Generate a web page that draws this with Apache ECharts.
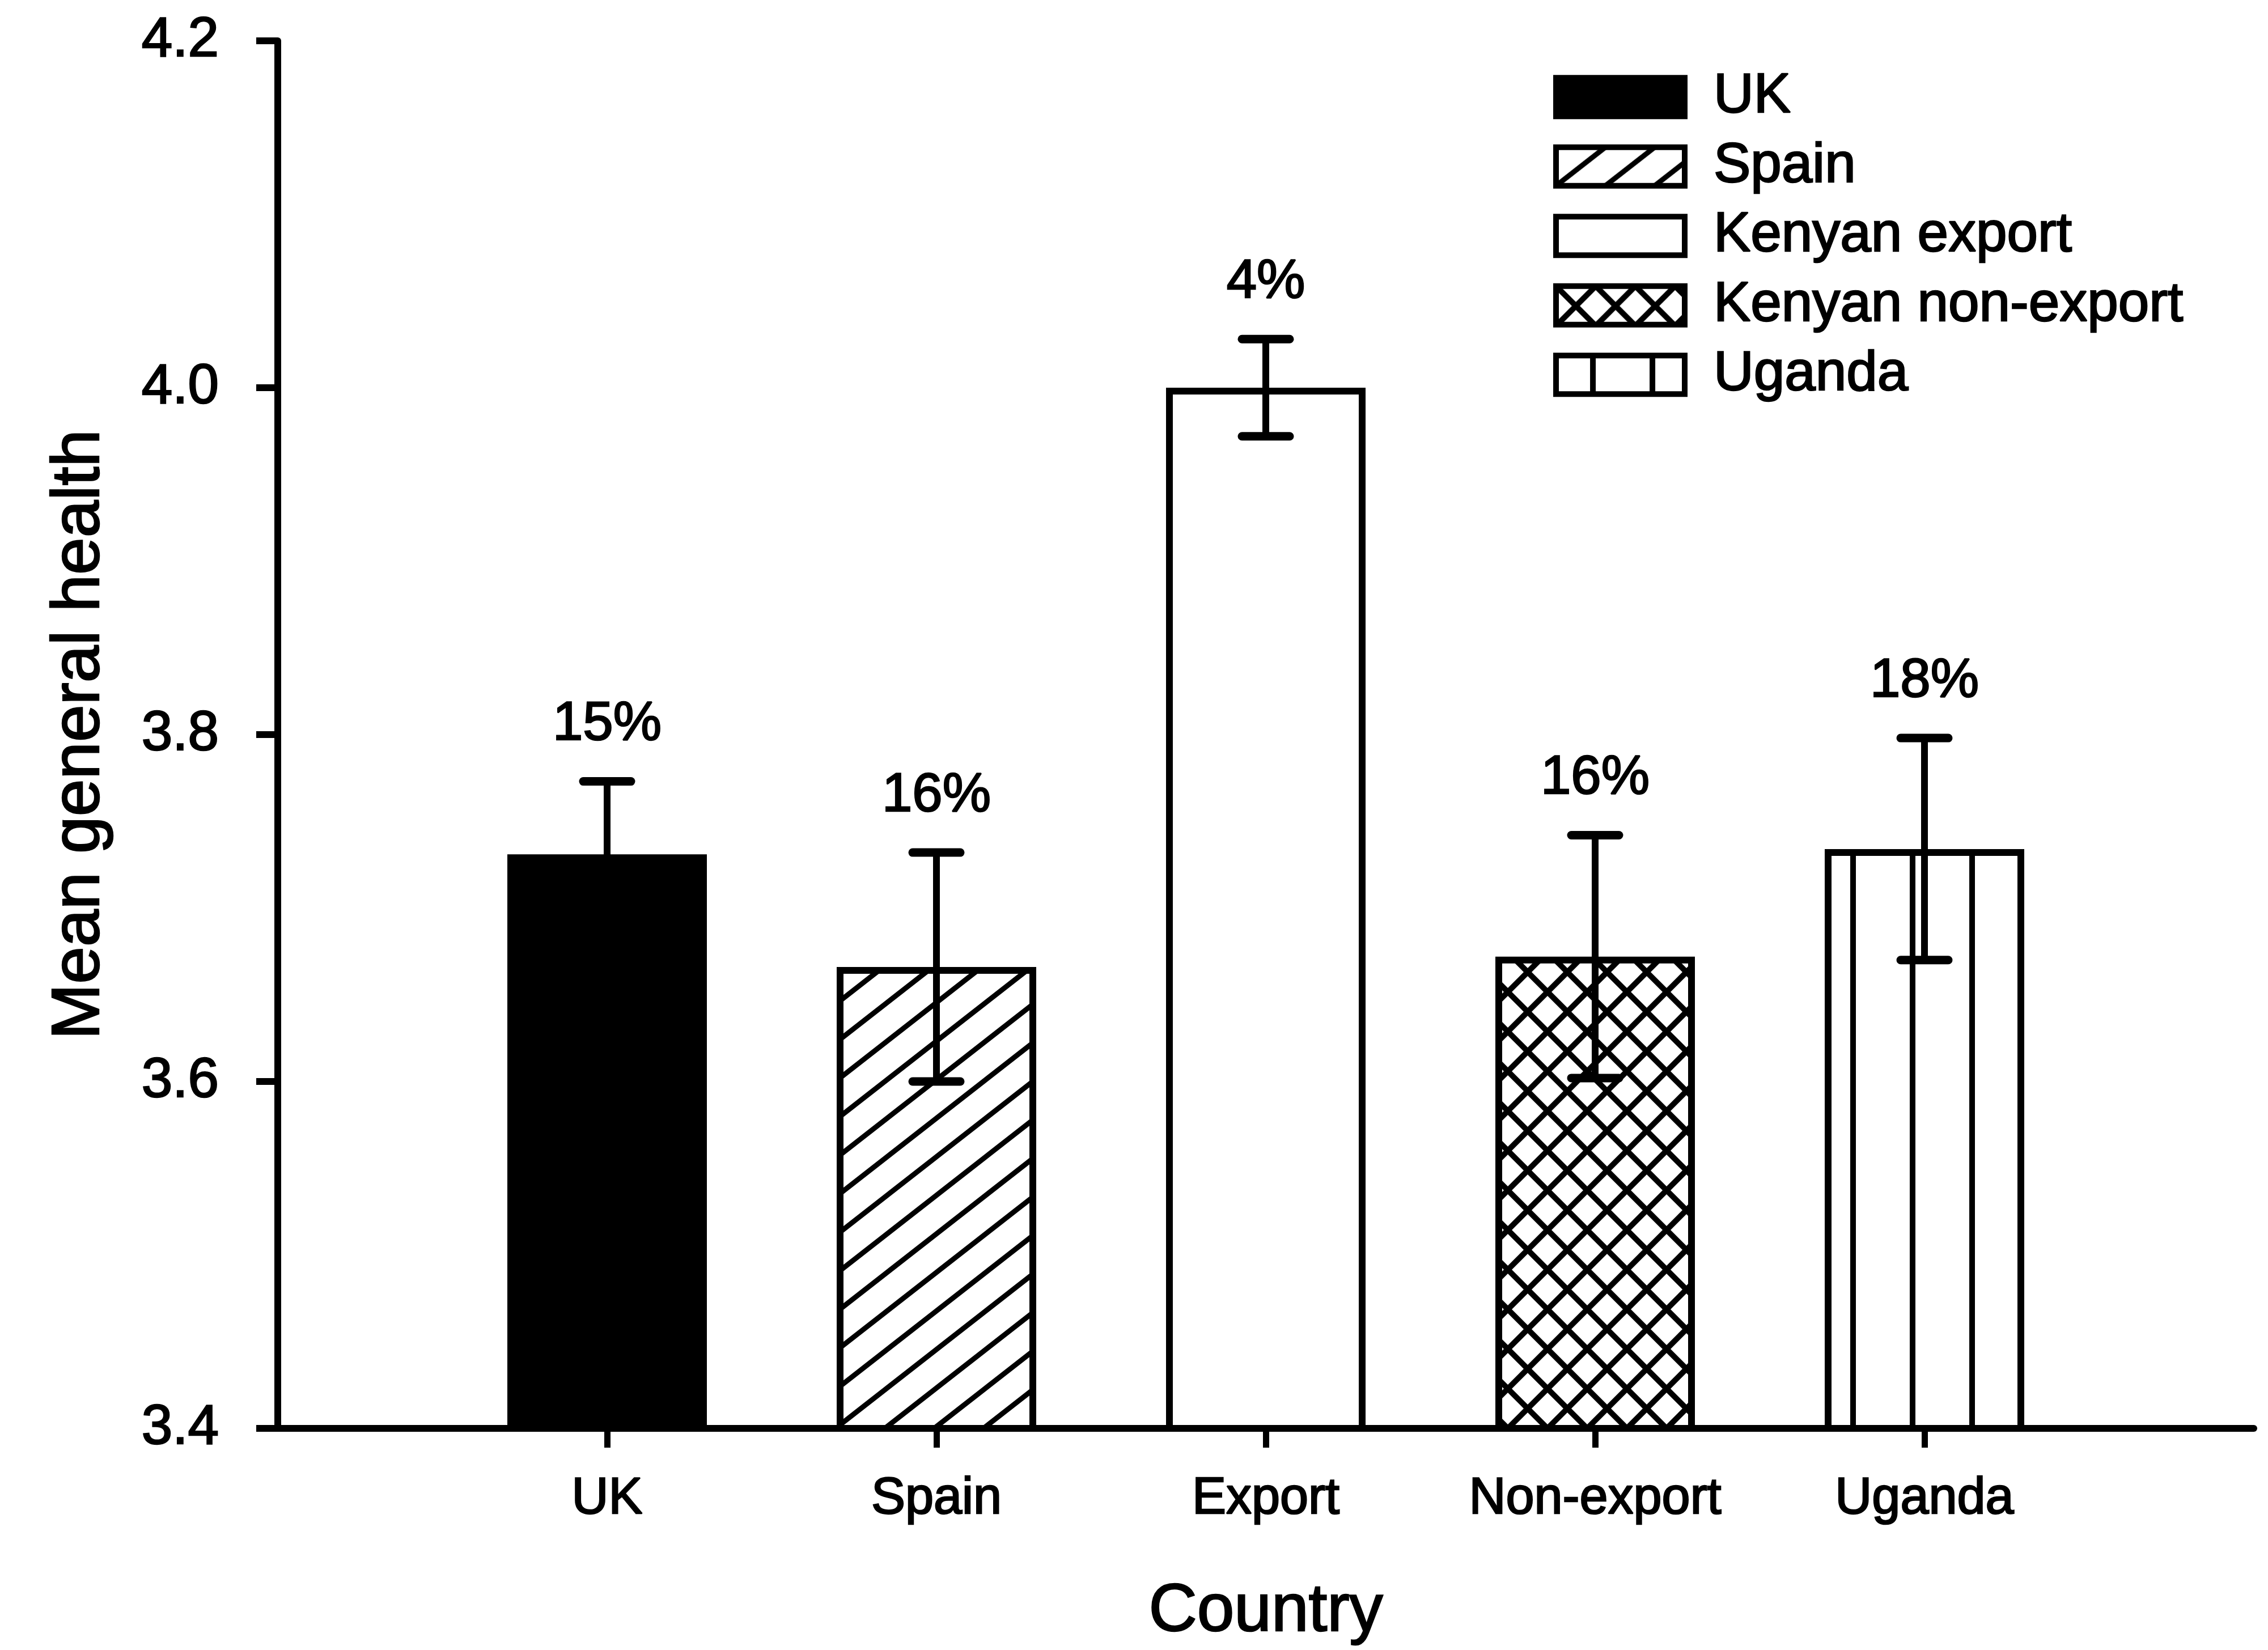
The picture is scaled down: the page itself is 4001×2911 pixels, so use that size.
<!DOCTYPE html>
<html>
<head>
<meta charset="utf-8">
<script src="https://cdn.jsdelivr.net/npm/echarts@6/dist/echarts.min.js"></script>
<style>
  html, body { margin: 0; padding: 0; background: #ffffff; }
  #chart { width: 4001px; height: 2911px; }
</style>
</head>
<body>
<div id="chart"></div>
<script>
// ---- data ----
const categories = ['UK', 'Spain', 'Export', 'Non-export', 'Uganda'];
const seriesNames = ['UK', 'Spain', 'Kenyan export', 'Kenyan non-export', 'Uganda'];
const meanHealth = [3.731, 3.666, 4.000, 3.672, 3.734];
const stdError = [0.042, 0.066, 0.028, 0.070, 0.064];
const percentLabels = ['15%', '16%', '4%', '16%', '18%'];
const yTicks = [3.4, 3.6, 3.8, 4.0, 4.2];

// one empty slot on each side of the five groups
const axisCategories = [''].concat(categories, [' ']);

const FONT = '"Liberation Sans", Arial, Helvetica, sans-serif';
const BAR_WIDTH = 352;
// slightly heavier lettering
const INK = { textBorderColor: '#000000', textBorderWidth: 2.5 };

// ---- fill patterns ----
function makeTile(w, h, draw) {
  const c = document.createElement('canvas');
  c.width = w; c.height = h;
  const g = c.getContext('2d');
  g.fillStyle = '#ffffff';
  g.fillRect(0, 0, w, h);
  g.strokeStyle = '#000000';
  g.fillStyle = '#000000';
  draw(g, w, h);
  return c;
}

// single diagonal hatching "/"
const hatchTile = makeTile(87, 68, (g, w, h) => {
  g.lineWidth = 9;
  for (const dx of [-w, 0, w]) {
    g.beginPath();
    g.moveTo(dx - w, 2 * h);
    g.lineTo(dx + 2 * w, -h);
    g.stroke();
  }
});

// diamond cross-hatching
const crossTile = makeTile(70, 70, (g, w, h) => {
  g.lineWidth = 10;
  for (const dx of [-w, 0, w]) {
    g.beginPath();
    g.moveTo(dx - w, 2 * h);
    g.lineTo(dx + 2 * w, -h);
    g.stroke();
    g.beginPath();
    g.moveTo(dx - w, -h);
    g.lineTo(dx + 2 * w, 2 * h);
    g.stroke();
  }
});

// vertical stripes
const stripeTile = makeTile(105, 20, (g, w, h) => {
  g.fillRect(0, 0, 5, h);
  g.fillRect(w - 5, 0, 5, h);
});

function stripeFill(offsetX) {
  return { image: stripeTile, repeat: 'repeat', x: offsetX, y: 0 };
}

const fills = [
  '#000000',
  { image: hatchTile, repeat: 'repeat' },
  '#ffffff',
  { image: crossTile, repeat: 'repeat' },
  stripeFill(0)
];

function buildSeries(ugandaFill) {
  const bars = seriesNames.map((name, i) => ({
    name: name,
    type: 'bar',
    barWidth: BAR_WIDTH,
    barGap: '-100%',
    data: [[categories[i], meanHealth[i]]],
    itemStyle: {
      color: i === 4 ? ugandaFill : fills[i],
      borderColor: '#000000',
      borderWidth: 12
    },
    emphasis: { disabled: true },
    z: 2
  }));

  // error bars with the percentage written above each one
  const errors = {
    type: 'custom',
    name: 'error',
    z: 5,
    data: categories.map((c, i) => [c, meanHealth[i], stdError[i]]),
    renderItem: function (params, api) {
      const x = api.value(0);
      const v = api.value(1);
      const e = api.value(2);
      const top = api.coord([x, v + e]);
      const bot = api.coord([x, v - e]);
      const cap = 42;
      return {
        type: 'group',
        children: [
          { type: 'line', shape: { x1: top[0], y1: top[1], x2: bot[0], y2: bot[1] },
            style: { stroke: '#000', lineWidth: 12 } },
          { type: 'line', shape: { x1: top[0] - cap, y1: top[1], x2: top[0] + cap, y2: top[1] },
            style: { stroke: '#000', lineWidth: 15, lineCap: 'round' } },
          { type: 'line', shape: { x1: bot[0] - cap, y1: bot[1], x2: bot[0] + cap, y2: bot[1] },
            style: { stroke: '#000', lineWidth: 15, lineCap: 'round' } },
          { type: 'text', x: top[0], y: top[1] - 52,
            style: { text: percentLabels[params.dataIndex], fill: '#000', font: '96px ' + FONT,
                     align: 'center', verticalAlign: 'bottom',
                     stroke: '#000', lineWidth: 2.5 } }
        ]
      };
    }
  };
  return bars.concat([errors]);
}

function buildLegendData(ugandaLegendFill) {
  return seriesNames.map((name, i) =>
    i === 4 ? { name: name, itemStyle: { color: ugandaLegendFill } } : { name: name });
}

const chart = echarts.init(document.getElementById('chart'), null, { renderer: 'canvas' });

const option = {
  animation: false,
  backgroundColor: '#ffffff',
  grid: { left: 490, right: 25, top: 72, bottom: 391, containLabel: false },
  legend: {
    orient: 'vertical',
    left: 2735,
    top: 116,
    icon: 'rect',
    itemWidth: 227,
    itemHeight: 68,
    itemGap: 22,
    selectedMode: false,
    data: buildLegendData(stripeFill(65)),
    itemStyle: { borderColor: '#000000', borderWidth: 10 },
    textStyle: Object.assign({ fontFamily: FONT, fontSize: 98, color: '#000', lineHeight: 100,
                               padding: [0, 0, 0, 46] }, INK)
  },
  xAxis: {
    type: 'category',
    data: axisCategories,
    boundaryGap: false,
    name: 'Country',
    nameLocation: 'middle',
    nameGap: 265,
    nameTextStyle: Object.assign({ fontFamily: FONT, fontSize: 118, color: '#000' }, INK),
    axisLine: { lineStyle: { color: '#000', width: 12 } },
    axisTick: {
      length: 34,
      interval: (index, value) => String(value).trim() !== '',
      lineStyle: { color: '#000', width: 11 }
    },
    axisLabel: Object.assign({ interval: 0, margin: 80, fontFamily: FONT, fontSize: 90, color: '#000' }, INK),
    splitLine: { show: false }
  },
  yAxis: {
    type: 'value',
    min: yTicks[0],
    max: yTicks[yTicks.length - 1],
    interval: +(yTicks[1] - yTicks[0]).toFixed(2),
    name: 'Mean general health',
    nameLocation: 'middle',
    nameGap: 290,
    nameTextStyle: Object.assign({ fontFamily: FONT, fontSize: 118, color: '#000' }, INK),
    axisLine: { show: true, lineStyle: { color: '#000', width: 12 } },
    axisTick: { show: true, length: 38, lineStyle: { color: '#000', width: 12 } },
    axisLabel: Object.assign({
      margin: 104, fontFamily: FONT, fontSize: 98, color: '#000',
      formatter: v => v.toFixed(1)
    }, INK),
    splitLine: { show: false }
  },
  series: buildSeries(stripeFill(0))
};

chart.setOption(option);

// align the stripe phase with the Uganda bar's left edge
const ugandaX = chart.convertToPixel({ xAxisIndex: 0 }, axisCategories.indexOf('Uganda'));
const ugandaLeft = ugandaX - BAR_WIDTH / 2;
chart.setOption({ series: buildSeries(stripeFill(ugandaLeft + 50)) });
</script>
</body>
</html>
